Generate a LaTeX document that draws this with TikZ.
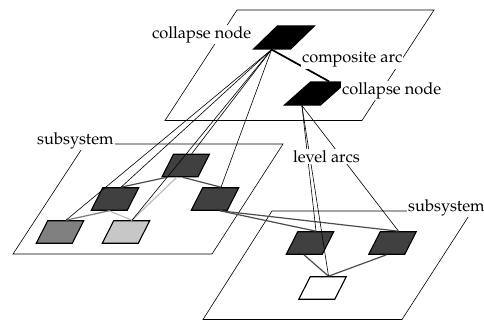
\documentclass[tikz,border=0pt]{standalone}
\usepackage{fontspec}
\setmainfont{TeX Gyre Pagella}
\usetikzlibrary{calc}
\definecolor{fdark}{gray}{0.25}
\definecolor{fmid}{gray}{0.5}
\definecolor{flight}{gray}{0.78}
\definecolor{edark}{gray}{0.3}
\definecolor{emid}{gray}{0.48}
\definecolor{elight}{gray}{0.74}
\begin{document}
\begin{tikzpicture}[x=1pt,y=-1pt,
  plane/.style={draw=black, line width=0.6pt},
  cnode/.style={draw=black, line width=1.1pt, rectangle, minimum width=36pt,
    minimum height=22.5pt, inner sep=0pt, xslant=0.51, transform shape},
  thinarc/.style={draw=black, line width=0.6pt},
  comparc/.style={draw=black, line width=1.7pt},
  grayarc/.style={line width=1.2pt},
  lbl/.style={anchor=base west, fill=white, inner xsep=1pt, inner ysep=1.5pt,
    font=\fontsize{16.4}{18}\selectfont}
]
\useasboundingbox (0,0) rectangle (484,321);
% planes
\draw[plane] (165,120.5) -- (362,120.5) -- (434,10) -- (237,10) -- cycle;
\draw[plane] (13,254) -- (212,254) -- (283,144) -- (85,144) -- cycle;
\draw[plane] (203,319.5) -- (402,319.5) -- (472,211) -- (272,211) -- cycle;
% nodes
\node[cnode, fill=black, minimum width=37pt, minimum height=23pt, xslant=0.52] (N1) at (284,37.5) {};
\node[cnode, fill=black, minimum width=36pt, minimum height=23pt, xslant=0.62] (N2) at (315.5,93.5) {};
\node[cnode, fill=fdark] (Lt) at (185.75,165.5) {};
\node[cnode, fill=fdark] (Lml) at (115,199) {};
\node[cnode, fill=fdark] (Lmr) at (215,199) {};
\node[cnode, fill=fmid] (Lbl) at (60,232) {};
\node[cnode, fill=flight] (Lbr) at (126,232) {};
\node[cnode, fill=fdark] (RA) at (310,243) {};
\node[cnode, fill=fdark] (RB) at (392.5,243) {};
\node[cnode, fill=white] (Rw) at (322.5,288) {};
% gray arcs inside subsystems
\draw[grayarc, draw=edark] ($(Lt.south west)!0.15!(Lt.south east)$) -- (Lml.north);
\draw[grayarc, draw=edark] ($(Lt.south west)!0.58!(Lt.south east)$) -- (Lmr.north);
\draw[grayarc, draw=elight] ($(Lt.south west)!0.42!(Lt.south east)$) -- (Lbr.north);
\draw[grayarc, draw=emid] (Lml.south) -- (Lbl.north);
\draw[grayarc, draw=elight] (Lml.south) -- (Lbr.north);
\draw[grayarc, draw=edark] ($(Lmr.south)!0.6!(Lmr.south east)$) -- (RA.north);
\draw[grayarc, draw=edark] ($(Lmr.south)!0.6!(Lmr.south east)$) -- (RB.north);
\draw[grayarc, draw=edark] (RA.south) -- (Rw.north);
\draw[grayarc, draw=edark] (RB.south) -- (Rw.north);
% composite arc
\draw[comparc] (N1.south) -- (N2.north);
% level arcs
\draw[thinarc] (N1.south) -- (Lbl.north);
\draw[thinarc] (N1.south) -- (Lml.north);
\draw[thinarc] (N1.south) -- (Lbr.north);
\draw[thinarc] (N1.south) -- (Lt.north);
\draw[thinarc] (N1.south) -- (Lmr.north);
\draw[thinarc] (N2.south) -- (RA.north);
\draw[thinarc] (N2.south) -- (Rw.north);
\draw[thinarc] (N2.south) -- (RB.north);
% labels
\node[lbl] (t1) at (151,38) {collapse node};
\node[lbl] (t2) at (301,63) {composite arc};
\node[lbl] (t3) at (341,94) {collapse node};
\node[lbl] (t4) at (292,162) {level arcs};
\node[lbl] (t5) at (36,144) {subsystem};
\node[lbl] (t6) at (407,211) {subsystem};
\end{tikzpicture}
\end{document}
